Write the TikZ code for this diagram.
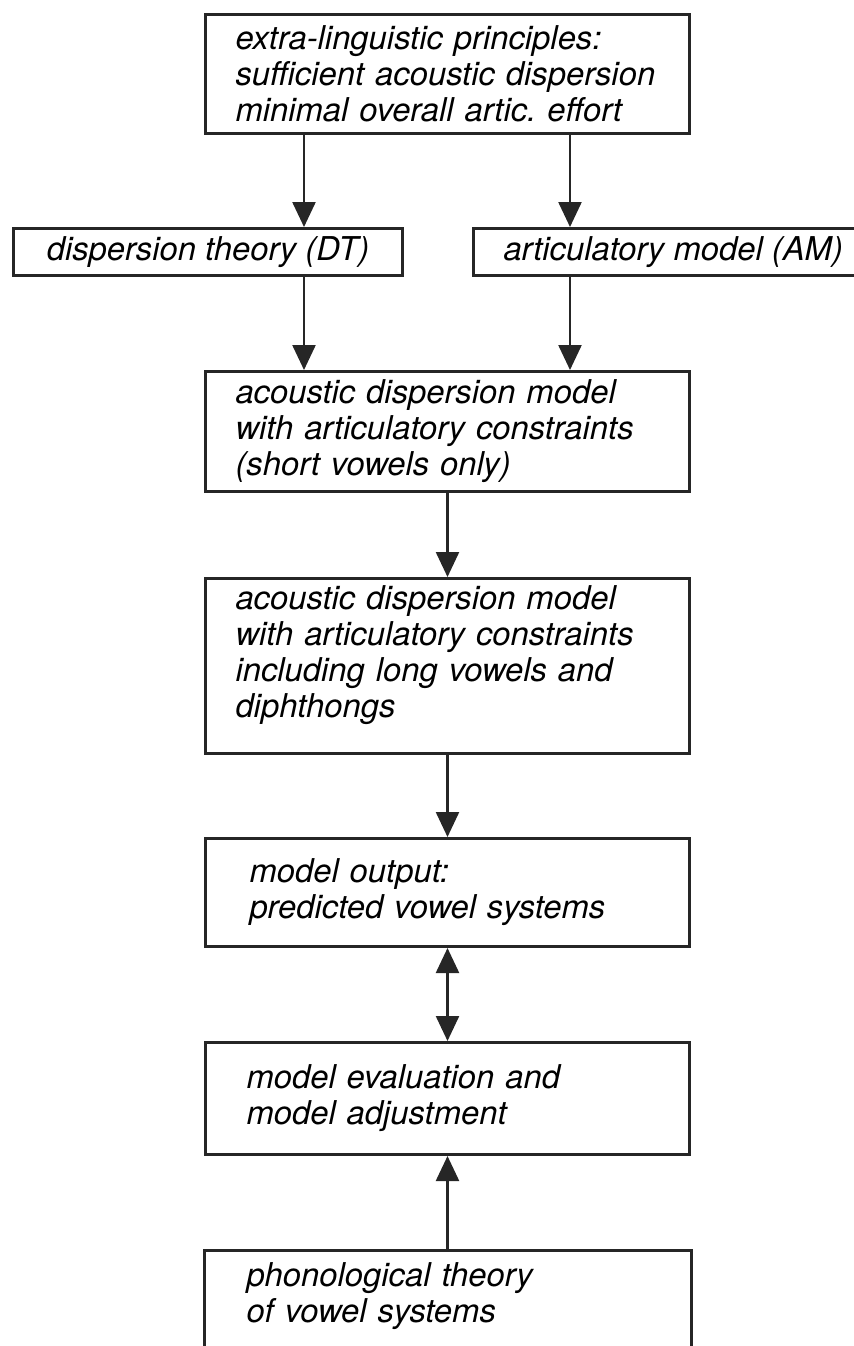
\documentclass[tikz,border=0pt]{standalone}
\usepackage{fontspec}
\setmainfont{TeX Gyre Heros}
\usetikzlibrary{arrows.meta}

\begin{document}
\begin{tikzpicture}[x=0.5pt, y=-0.5pt,
        stage/.style={draw=black!85, line width=1.5pt, anchor=north west, align=left,
            inner xsep=15pt, font=\itshape\fontsize{16.4}{18}\selectfont},
        flow/.style={draw=black!85, line width=1.2pt, -{Triangle[length=12.5pt, width=11.5pt]}},
        twoway/.style={flow, {Triangle[length=12.5pt, width=11.5pt]}-{Triangle[length=12.5pt, width=11.5pt]}}]
                \clip (0,0) rectangle (854,1346);

                \node[stage, text width=212pt, minimum height=59.5pt](principles) at (204,  13) {extra-linguistic principles:\\sufficient acoustic dispersion\\minimal overall artic.\ effort};
                \node[stage, minimum width=194.5pt, minimum height=23.5pt](dt) at ( 12, 227) {dispersion theory (DT)};
                \node[stage, minimum width=189.5pt, minimum height=23.5pt](am) at (472, 227) {articulatory model (AM)};
                \node[stage, text width=212pt, minimum height=60pt](adm) at (204, 370) {acoustic dispersion model\\with articulatory constraints\\(short vowels only)};
                \node[stage, text width=212pt, minimum height=83.5pt, text depth=69pt](admlong) at (204, 577) {acoustic dispersion model\\with articulatory constraints\\including long vowels and\\diphthongs};
                \node[stage, inner xsep=22pt, text width=198pt, minimum height=54pt](output) at (204, 837) {model output:\\predicted vowel systems};
                \node[stage, inner xsep=20.5pt, text width=201pt, minimum height=56pt](evaluation) at (204,1041) {model evaluation and\\model adjustment};
                \node[stage, draw=none, inner xsep=20.5pt, text width=201pt, minimum height=45pt](phon) at (204,1250) {phonological theory\\of vowel systems};
                \draw[draw=black!85, line width=1.5pt] ([yshift=-30pt]phon.south west) |- (phon.north east) -- ([yshift=-30pt]phon.south east);

                \coordinate (dtline) at (304,0);
                \coordinate (amline) at (570,0);

                \draw[flow] (principles.south -| dtline) -- (dt.north -| dtline);
                \draw[flow] (principles.south -| amline) -- (am.north -| amline);
                \draw[flow] (dt.south -| dtline) -- (adm.north -| dtline);
                \draw[flow] (am.south -| amline) -- (adm.north -| amline);
                \draw[flow] (adm.south) -- (admlong.north);
                \draw[flow] (admlong.south) -- (output.north);
                \draw[twoway] (output.south) -- (evaluation.north);
                \draw[flow] (phon.north) -- (evaluation.south);
            \end{tikzpicture}
\end{document}
